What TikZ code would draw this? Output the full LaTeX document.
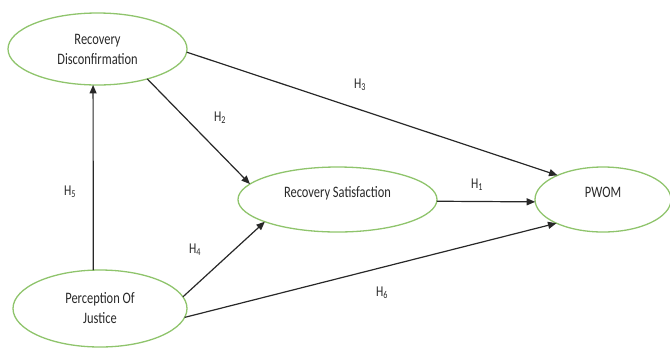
\documentclass[tikz,border=0pt]{standalone}
\usepackage{fontspec}
\setmainfont{Carlito}[FakeStretch=0.78]
\usepackage{xcolor}
\usepackage{tikz}
\usetikzlibrary{shapes,arrows.meta}

\definecolor{ovalgreen}{RGB}{143,196,108}
\definecolor{inkgray}{RGB}{40,40,40}

\begin{document}
\begin{tikzpicture}[x=1bp,y=-1bp]

\tikzstyle{construct}=[ellipse,draw=ovalgreen,line width=1.3bp,inner sep=0pt,outer sep=0pt,
    align=center,text=inkgray,font=\fontsize{16}{20}\selectfont]
\tikzstyle{hyparrow}=[draw=inkgray,line width=1.2bp,-{Triangle[length=8.5bp,width=7bp]}]
\tikzstyle{hyplabel}=[text=inkgray,font=\fontsize{15}{16}\selectfont]

\useasboundingbox (0,0) rectangle (670,347);

%% constructs
\node[construct,minimum width=179bp,minimum height=72bp] (rd) at (97.5,49) {Recovery\\Disconfirmation};
\node[construct,minimum width=199bp,minimum height=65bp,text depth=15bp] (rs) at (337.5,199.5) {Recovery Satisfaction};
\node[construct,minimum width=136bp,minimum height=65bp,text depth=15bp] (pw) at (603,199.5) {PWOM};
\node[construct,minimum width=174bp,minimum height=77bp] (pj) at (100,308.5) {Perception Of\\Justice};

%% hypotheses
\draw[hyparrow] (pj.100) -- (rd.-97);
\draw[hyparrow] (rd.-31) -- (rs.170.5);
\draw[hyparrow] (rd.-2) -- (pw.152);
\draw[hyparrow] (rs.-1) -- (pw.182);
\draw[hyparrow] (pj.8) -- (rs.197);
\draw[hyparrow] (pj.-6.5) -- (pw.207);

    \node[hyplabel] (h1) at (477,185) {H\textsubscript{1}};
    \node[hyplabel] (h2) at (220,118) {H\textsubscript{2}};
    \node[hyplabel] (h3) at (360,85) {H\textsubscript{3}};
    \node[hyplabel] (h4) at (195,250) {H\textsubscript{4}};
    \node[hyplabel] (h5) at (70,192) {H\textsubscript{5}};
    \node[hyplabel] (h6) at (382,293) {H\textsubscript{6}};

\end{tikzpicture}
\end{document}
